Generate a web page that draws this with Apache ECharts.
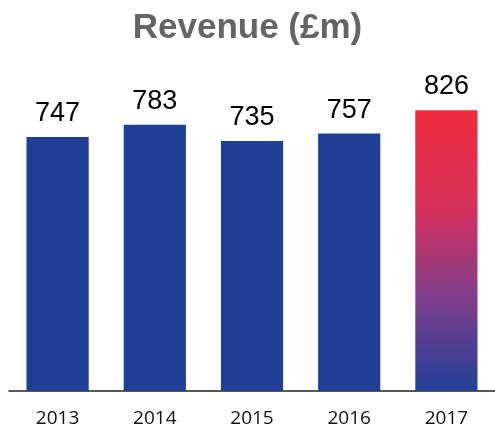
<!DOCTYPE html>
<html>
<head>
<meta charset="utf-8">
<script src="https://cdn.jsdelivr.net/npm/echarts@6/dist/echarts.min.js"></script>
<style>
  html, body { margin: 0; padding: 0; background: #fff; }
  #chart { width: 495px; height: 431px; }
</style>
</head>
<body>
<div id="chart"></div>
<script>
// data
const years = ['2013', '2014', '2015', '2016', '2017']
const revenue = [747, 783, 735, 757, 826]

const blue = '#1f3f97'
const redBlue = new echarts.graphic.LinearGradient(0, 0, 0, 1, [
  { offset: 0, color: '#ee2a3b' },
  { offset: 0.35, color: '#d5305a' },
  { offset: 0.65, color: '#853d8b' },
  { offset: 1, color: '#22419a' }
])

const chart = echarts.init(document.getElementById('chart'))
chart.setOption({
  animation: false,
  title: {
    text: 'Revenue (£m)',
    left: 'center',
    top: 6,
    textStyle: { fontFamily: 'Liberation Sans', fontSize: 35, fontWeight: 'bold', color: '#646464' }
  },
  grid: { left: 9, right: -4, top: 51, bottom: 40 },
  xAxis: {
    type: 'category',
    data: years,
    axisTick: { show: false },
    axisLine: { lineStyle: { color: '#222', width: 1.5 } },
    axisLabel: { fontFamily: 'Open Sans', fontSize: 19, color: '#111', margin: 18 }
  },
  yAxis: {
    type: 'value',
    min: 0,
    max: 1000,
    show: false
  },
  series: [{
    type: 'bar',
    barCategoryGap: '36%',
    data: revenue.map((v, i) => ({
      value: v,
      itemStyle: { color: i === revenue.length - 1 ? redBlue : blue }
    })),
    label: {
      show: true,
      position: 'top',
      distance: 10,
      fontFamily: 'Liberation Sans',
      fontSize: 27,
      color: '#000'
    }
  }]
})
</script>
</body>
</html>
